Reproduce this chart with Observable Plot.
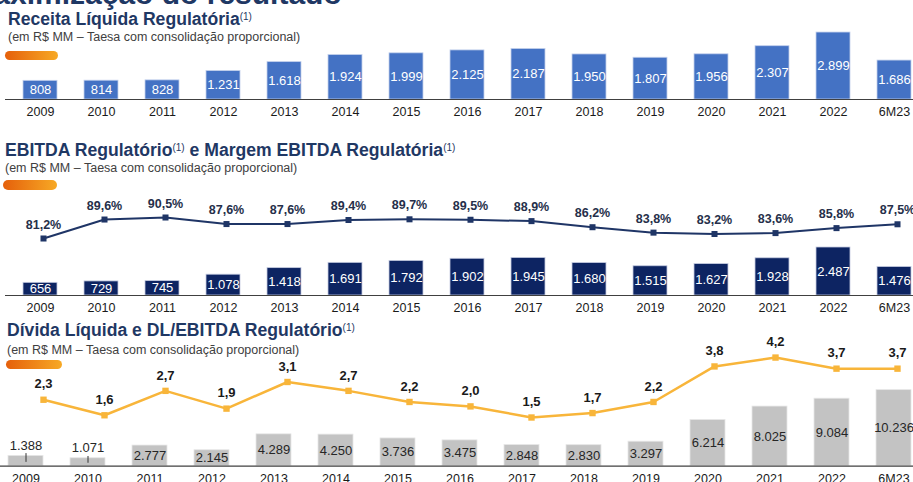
<!DOCTYPE html>
<html><head><meta charset="utf-8">
<script src="https://cdn.jsdelivr.net/npm/d3@7"></script>
<script src="https://cdn.jsdelivr.net/npm/@observablehq/plot@0.6"></script>
<style>
html,body{margin:0;padding:0;background:#fff;overflow:hidden;}
#root{position:relative;width:913px;height:482px;overflow:hidden;font-family:Arial,"Liberation Sans",sans-serif;}
.abs{position:absolute;white-space:nowrap;line-height:1;}
.big{font-size:30px;font-weight:bold;color:#1f3864;}
.ttl{font-size:17.6px;font-weight:bold;color:#1f3864;}
.ttl sup{font-size:10px;font-weight:normal;vertical-align:top;position:relative;top:1px;line-height:1;}
.sub{font-size:12.5px;color:#404040;}
.pill{position:absolute;border-radius:5px;background:linear-gradient(90deg,#e5600b,#f7a925);}
svg{position:absolute;left:0;}
</style></head><body><div id="root"></div>
<script>
// ---- data ----
const categories = ["2009","2010","2011","2012","2013","2014","2015","2016","2017","2018","2019","2020","2021","2022","6M23"];
const receita = [808,814,828,1231,1618,1924,1999,2125,2187,1950,1807,1956,2307,2899,1686];
const ebitda = [656,729,745,1078,1418,1691,1792,1902,1945,1680,1515,1627,1928,2487,1476];
const margem = [81.2,89.6,90.5,87.6,87.6,89.4,89.7,89.5,88.9,86.2,83.8,83.2,83.6,85.8,87.5];
const divida = [1388,1071,2777,2145,4289,4250,3736,3475,2848,2830,3297,6214,8025,9084,10236];
const dlEbitda = [2.3,1.6,2.7,1.9,3.1,2.7,2.2,2.0,1.5,1.7,2.2,3.8,4.2,3.7,3.7];

const titles = {
  top: "Maximização do resultado",
  t1: "Receita Líquida Regulatória",
  t2a: "EBITDA Regulatório", t2b: " e Margem EBITDA Regulatória",
  t3: "Dívida Líquida e DL/EBITDA Regulatório",
  note: "(1)",
  sub: "(em R$ MM – Taesa com consolidação proporcional)"
};

const loc = d3.formatLocale({decimal:",", thousands:".", grouping:[3], currency:["R$",""]});
const fmtInt = loc.format(",d");
const fmt1 = loc.format(".1f");

const root = document.getElementById("root");
function addDiv(cls, html, left, top){
  const d = document.createElement("div");
  d.className = cls; d.innerHTML = html;
  d.style.left = left + "px"; d.style.top = top + "px";
  root.appendChild(d); return d;
}
function addPill(left, top, w, h){
  const d = document.createElement("div");
  d.className = "pill";
  Object.assign(d.style, {left:left+"px", top:top+"px", width:w+"px", height:h+"px"});
  root.appendChild(d);
}
function place(svg, top){ svg.style.top = top + "px"; root.appendChild(svg); }

const baseStyle = {background:"transparent", maxWidth:"none", overflow:"visible",
  fontFamily:"Arial, 'Liberation Sans', sans-serif", color:"#1a1a1a"};

const rows = arr => categories.map((c,i)=>({cat:c, v:arr[i]}));
const r1 = rows(receita), r2 = rows(ebitda), m2 = rows(margem), r3 = rows(divida), l3 = rows(dlEbitda);

// ---- Panel 1 ----
const p1 = Plot.plot({
  width:940, height:100, marginLeft:5, marginRight:0, marginTop:0, marginBottom:21,
  style: baseStyle,
  x:{type:"band", domain:categories, range:[5.25, 927.75], paddingInner:0.447, paddingOuter:0.2235},
  y:{domain:[0,3000], range:[79, 79-3000*0.0231], axis:null},
  marks:[
    Plot.barY(r1, {x:"cat", y:"v", fill:"#4472c4", stroke:"#c3d0ec", strokeWidth:0.8}),
    Plot.text(r1, {x:"cat", y:d=>d.v/2, text:d=>fmtInt(d.v), fill:"#ffffff", fontSize:13}),
    Plot.ruleY([0], {stroke:"#404040", strokeWidth:1.2}),
    Plot.axisX({tickSize:0, tickPadding:8, fontSize:12.5, label:null, fill:"#1a1a1a"})
  ]
});
place(p1, 20);

// ---- Panel 2 bars ----
const p2 = Plot.plot({
  width:940, height:125, marginLeft:5, marginRight:0, marginTop:0, marginBottom:20,
  style: baseStyle,
  x:{type:"band", domain:categories, range:[5.25, 927.75], paddingInner:0.447, paddingOuter:0.2235},
  y:{domain:[0,2500], range:[105, 105-2500*0.0193], axis:null},
  marks:[
    Plot.barY(r2, {x:"cat", y:"v", fill:"#0d2462", stroke:"#c5cbe0", strokeWidth:0.8}),
    Plot.text(r2, {x:"cat", y:d=>d.v/2, text:d=>fmtInt(d.v), fill:"#ffffff", fontSize:13}),
    Plot.ruleY([0], {stroke:"#404040", strokeWidth:1.2}),
    Plot.axisX({tickSize:0, tickPadding:8, fontSize:12.5, label:null, fill:"#1a1a1a"})
  ]
});
place(p2, 190);

// ---- Panel 2 line ----
const p2l = Plot.plot({
  width:940, height:125, margin:0,
  style: baseStyle,
  x:{type:"point", domain:categories, range:[37.7, 901.6], padding:0, axis:null},
  y:{domain:[80,92], range:[48+1.2*2.258, 48-10.8*2.258], axis:null},
  marks:[
    Plot.line(m2, {x:"cat", y:"v", stroke:"#1f3566", strokeWidth:2}),
    Plot.dot(m2, {x:"cat", y:"v", symbol:"square", r:3.4, fill:"#1f3566"}),
    Plot.text(m2, {x:"cat", y:"v", text:d=>fmt1(d.v)+"%", dy:-14, fontSize:12.5, fontWeight:"bold", fill:"#262f4a"})
  ]
});
place(p2l, 190);

// ---- Panel 3 bars ----
const small = r3.filter(d => d.v < 1500);
const big = r3.filter(d => d.v >= 1500);
const p3 = Plot.plot({
  width:940, height:157, marginLeft:0, marginRight:0, marginTop:0, marginBottom:16.3,
  style: baseStyle,
  x:{type:"band", domain:categories, range:[-6.6, 926.4], paddingInner:0.437, paddingOuter:0.2185},
  y:{domain:[0,10500], range:[140.7, 140.7-10500*0.00743], axis:null},
  marks:[
    Plot.barY(r3, {x:"cat", y:"v", fill:"#c3c3c3", stroke:"#e6e6e6", strokeWidth:0.8}),
    Plot.text(big, {x:"cat", y:d=>d.v/2, text:d=>fmtInt(d.v), fill:"#262626", fontSize:13}),
    Plot.ruleX(small, {x:"cat", y1:d=>d.v*0.37, y2:d=>d.v*1.22, stroke:"#333", strokeWidth:1}),
    Plot.text(small, {x:"cat", y:"v", dy:-10, text:d=>fmtInt(d.v), fill:"#262626", fontSize:13}),
    Plot.ruleY([0], {stroke:"#404040", strokeWidth:1.2}),
    Plot.axisX({tickSize:0, tickPadding:7.5, fontSize:12.5, label:null, fill:"#1a1a1a"})
  ]
});
place(p3, 325);

// ---- Panel 3 line ----
const p3l = Plot.plot({
  width:940, height:157, margin:0,
  style: baseStyle,
  x:{type:"point", domain:categories, range:[37.7, 901.6], padding:0, axis:null},
  y:{domain:[1,5], range:[92+0.5*22.2, 92-3.5*22.2], axis:null},
  marks:[
    Plot.line(l3, {x:"cat", y:"v", stroke:"#f8b53a", strokeWidth:2.5}),
    Plot.dot(l3, {x:"cat", y:"v", symbol:"square", r:3.6, fill:"#f8b53a"}),
    Plot.text(l3, {x:"cat", y:"v", text:d=>fmt1(d.v), dy:-15.5, fontSize:13, fontWeight:"bold", fill:"#1a1a1a"})
  ]
});
place(p3l, 325);

// ---- titles ----
addDiv("abs big", titles.top, -31.7, -21.4);
addDiv("abs ttl", titles.t1 + "<sup>" + titles.note + "</sup>", 8, 10.6);
addDiv("abs sub", titles.sub, 8, 31.1);
addPill(5, 51, 53, 9);
addDiv("abs ttl", titles.t2a + "<sup>" + titles.note + "</sup>" + titles.t2b + "<sup>" + titles.note + "</sup>", 5, 142.1);
addDiv("abs sub", titles.sub, 5, 162.4);
addPill(3, 180, 54, 10);
addDiv("abs ttl", titles.t3 + "<sup>" + titles.note + "</sup>", 7, 322.4);
addDiv("abs sub", titles.sub, 7, 343.7);
addPill(6, 360, 56, 9);
</script></body></html>
